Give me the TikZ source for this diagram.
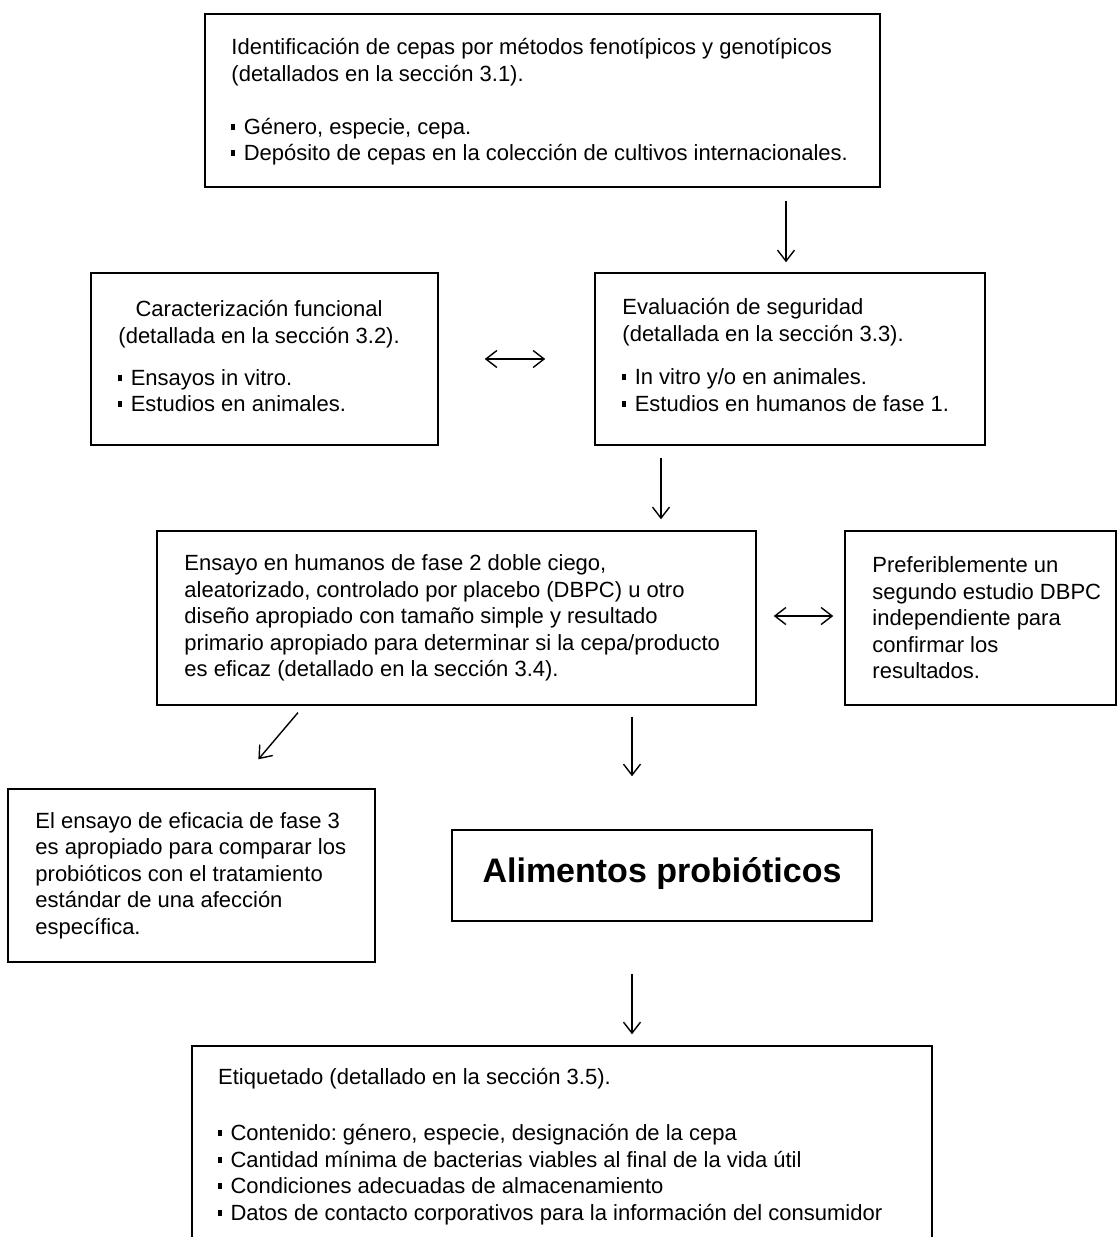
\documentclass[tikz,border=0pt]{standalone}
\usepackage{fontspec}
\setmainfont{Liberation Sans}
\usetikzlibrary{arrows.meta}

\frenchspacing
\newcommand{\blt}{\raisebox{0.2em}{\rule{3.5pt}{6pt}}\hspace{0.4em}}

\tikzset{
  box/.style={draw,line width=1.5pt,inner sep=0pt},
  txt/.style={align=left,inner sep=0pt,font=\fontsize{22}{26.5}\selectfont},
  arr/.style={line width=1.4pt,-{Straight Barb[length=11pt,width=17pt,line width=1.4pt]}},
  darr/.style={line width=1.4pt,{Straight Barb[length=11pt,width=17pt,line width=1.4pt]}-{Straight Barb[length=11pt,width=17pt,line width=1.4pt]}}
}

\begin{document}
\begin{tikzpicture}[x=1pt,y=-1pt]
      \useasboundingbox (0,0) rectangle (1117,1237);

      \node [box,minimum width=675,minimum height=173] (ident) at (542.5,100.5) {};
      \node [txt,anchor=west] (identtxt) at ([xshift=27,yshift=-1.5]ident.west) {Identificación de cepas por métodos fenotípicos y genotípicos\\(detallados en la sección 3.1).\\[26.5pt]\blt Género, especie, cepa.\\\blt Depósito de cepas en la colección de cultivos internacionales.};

      \node [box,minimum width=347,minimum height=172] (caract) at (264.5,359) {};
      \node [txt,anchor=west] (caracttxt) at ([xshift=28,yshift=4]caract.west) {\begin{tabular}{@{}c@{}}Caracterización funcional\\(detallada en la sección 3.2).\end{tabular}\\[17pt]\blt Ensayos in vitro.\\\blt Estudios en animales.};

      \node [box,minimum width=390,minimum height=172] (evalua) at (790,359) {};
      \node [txt,anchor=west] (evaluatxt) at ([xshift=28,yshift=4]evalua.west) {Evaluación de seguridad\\(detallada en la sección 3.3).\\[17pt]\blt In vitro y/o en animales.\\\blt Estudios en humanos de fase 1.};

      \node [box,minimum width=599,minimum height=174] (ensayo) at (456.5,618) {};
      \node [txt,anchor=west] (ensayotxt) at ([xshift=28]ensayo.west) {Ensayo en humanos de fase 2 doble ciego,\\aleatorizado, controlado por placebo (DBPC) u otro\\diseño apropiado con tamaño simple y resultado\\primario apropiado para determinar si la cepa/producto\\es eficaz (detallado en la sección 3.4).};

      \node [box,minimum width=271,minimum height=174] (segundo) at (980.5,618) {};
      \node [txt,anchor=west] (segundotxt) at ([xshift=28]segundo.west) {Preferiblemente un\\segundo estudio DBPC\\independiente para\\confirmar los\\resultados.};

      \node [box,minimum width=367,minimum height=173] (fase3) at (191.5,875.5) {};
      \node [txt,anchor=west] (fase3txt) at ([xshift=28]fase3.west) {El ensayo de eficacia de fase 3\\es apropiado para comparar los\\probióticos con el tratamiento\\estándar de una afección\\específica.};

      \node [box,minimum width=420,minimum height=91] (alim) at (662,875.5) {};
      \node [inner sep=0pt,font=\fontsize{34}{40}\selectfont\bfseries] (alimtxt) at ([yshift=1.5]alim.center) {Alimentos probióticos};

      \node [box,minimum width=740,minimum height=234] (etiq) at (562,1163) {};
      \node [txt,anchor=west] (etiqtxt) at (218,1146.5) {Etiquetado (detallado en la sección 3.5).\\[29.5pt]\blt Contenido: género, especie, designación de la cepa\\\blt Cantidad mínima de bacterias viables al final de la vida útil\\\blt Condiciones adecuadas de almacenamiento\\\blt Datos de contacto corporativos para la información del consumidor};

      \draw [arr,shorten <=13,shorten >=10] ([xshift=-4]ident.south -| evalua.north) to ([xshift=-4]evalua.north);
      \draw [darr,shorten <=46,shorten >=49] (caract.east) to (evalua.west);
      \draw [arr,shorten <=12,shorten >=11] ([xshift=-129]evalua.south) to ([xshift=-129]evalua.south |- ensayo.north);
      \draw [darr,shorten <=17,shorten >=11] ([yshift=2]ensayo.east) to ([yshift=2]segundo.west);
      \draw [arr,shorten <=9,shorten >=38] ([xshift=-152.7]ensayo.south) to ([xshift=42.3]fase3.north);
      \draw [arr,shorten <=11,shorten >=53] ([xshift=175.5]ensayo.south) to ([xshift=175.5]ensayo.south |- alim.north);
      \draw [arr,shorten <=52,shorten >=11] ([xshift=-30]alim.south) to ([xshift=-30]alim.south |- etiq.north);

    \end{tikzpicture}
\end{document}
